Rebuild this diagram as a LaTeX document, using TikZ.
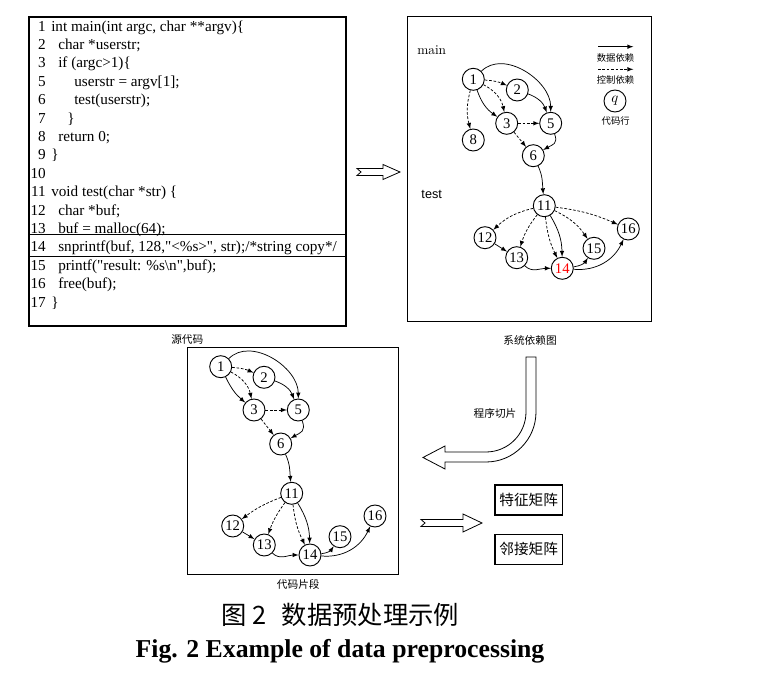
\documentclass[tikz,border=0pt]{standalone}
\usepackage{fontspec}
\setmainfont{Liberation Serif}
\newfontfamily\cjk{Noto Sans CJK SC}
\newfontfamily\lmr{Latin Modern Roman}
\newfontfamily\arial{Liberation Sans}
\usetikzlibrary{positioning}

\tikzset{
  vtx/.style={circle, draw, line width=0.7pt, minimum size=16.5pt, inner sep=0pt, font=\fontsize{11}{11}\selectfont},
  dep/.style={->, line width=0.55pt},
  ctl/.style={->, line width=0.55pt, dash pattern=on 2pt off 1.3pt},
  num/.style={anchor=base east, inner sep=0pt, font=\fontsize{11.4}{13}\selectfont},
  src/.style={anchor=base west, inner sep=0pt, font=\fontsize{11.4}{13}\selectfont},
  frame/.style={draw, line width=1pt},
  caption/.style={inner sep=0pt, font=\cjk\fontsize{8}{9}\selectfont},
  legend/.style={inner sep=0pt, font=\cjk\fontsize{7}{8}\selectfont},
  bigarrow/.style={draw, fill=white, line width=0.6pt},
  matbox/.style={draw, line width=1pt, minimum width=50.5pt, minimum height=22.5pt, inner sep=0pt, font=\cjk\fontsize{11}{12}\selectfont}
}

\begin{document}
\begin{tikzpicture}[>=latex, x=0.75pt, y=-0.75pt]
\useasboundingbox (0,0) rectangle (769,680);

% source code
\draw[frame] (29,17) rectangle (346,326);
\draw[line width=0.8pt] (29,234.3) -- (346,234.3);
\draw[line width=0.8pt] (29,256.7) -- (346,256.7);
\node[name=num_1, num] at (46,31.2) {1};
\node[name=src_1, src] at (51,31.2) {int main(int argc, char **argv)\{};
\node[name=num_2, num] at (46,49.6) {2};
\node[name=src_2, src] at (58,49.6) {char *userstr;};
\node[name=num_3, num] at (46,68) {3};
\node[name=src_3, src] at (58,68) {if (argc>1)\{};
\node[name=num_5, num] at (46,86.4) {5};
\node[name=src_5, src] at (74,86.4) {userstr = argv[1];};
\node[name=num_6, num] at (46,104.8) {6};
\node[name=src_6, src] at (74,104.8) {test(userstr);};
\node[name=num_7, num] at (46,123.2) {7};
\node[name=src_7, src] at (67,123.2) {\}};
\node[name=num_8, num] at (46,141.6) {8};
\node[name=src_8, src] at (58,141.6) {return 0;};
\node[name=num_9, num] at (46,160) {9};
\node[name=src_9, src] at (51,160) {\}};
\node[name=num_10, num] at (46,178.4) {10};
\node[name=num_11, num] at (46,196.8) {11};
\node[name=src_11, src] at (51,196.8) {void test(char *str) \{};
\node[name=num_12, num] at (46,215.2) {12};
\node[name=src_12, src] at (58,215.2) {char *buf;};
\node[name=num_13, num] at (46,233.6) {13};
\node[name=src_13, src] at (58,233.6) {buf = malloc(64);};
\node[name=num_14, num] at (46,252) {14};
\node[name=src_14, src] at (58,252) {snprintf(buf, 128,\textquotedbl<\%s>\textquotedbl, str);/*string copy*/};
\node[name=num_15, num] at (46,270.4) {15};
\node[name=src_15, src] at (58,270.4) {printf(\textquotedbl result: \%s\textbackslash n\textquotedbl,buf);};
\node[name=num_16, num] at (46,288.8) {16};
\node[name=src_16, src] at (58,288.8) {free(buf);};
\node[name=num_17, num] at (46,307.2) {17};
\node[name=src_17, src] at (51,307.2) {\}};
\node[name=cap_src, caption] at (187.3,340) {源代码};

% system dependence graph
\draw[frame] (407.7,16.7) rectangle (651.3,321.7);
\node[name=lbl_main, inner sep=0pt, font=\lmr\fontsize{10}{12}\selectfont] at (431.7,50.7) {main};
\node[name=lbl_test, inner sep=0pt, font=\arial\fontsize{9.5}{11}\selectfont] at (431.7,194) {test};
\node[name=main_1, vtx] at (473.3,79.3) {1};
\node[name=main_2, vtx] at (517.3,90) {2};
\node[name=main_3, vtx] at (506.7,123.3) {3};
\node[name=main_5, vtx] at (550.7,123.3) {5};
\node[name=main_8, vtx] at (473.3,140) {8};
\node[name=main_6, vtx] at (533.3,155.7) {6};
\node[name=test_11, vtx] at (544.3,205.7) {11};
\node[name=test_12, vtx] at (485,237.7) {12};
\node[name=test_13, vtx] at (516.7,257.7) {13};
\node[name=test_14, vtx, text=red] at (562.3,268.3) {14};
\node[name=test_15, vtx] at (594,248.3) {15};
\node[name=test_16, vtx] at (628.3,229) {16};

\draw(main_1) edge[ctl, bend left=10] (main_2);
\draw(main_1) edge[dep, out=45, in=90] (main_5);
\draw(main_1) edge[ctl, bend right=15] (main_8);
\draw(main_1) edge[dep, bend right=18] (main_3);
\draw(main_1) edge[ctl, bend left=25] (main_3);
\draw(main_2) edge[dep, bend left=25] (main_5);
\draw(main_3) edge[ctl] (main_5);
\draw(main_3) edge[ctl] (main_6);
\draw(main_5) edge[dep, out=-70, in=30, looseness=1.4] (main_6);
\draw(main_6) edge[dep, out=-65, in=95] (test_11);
\draw(test_11) edge[ctl, bend right=15] (test_12);
\draw(test_11) edge[ctl, bend right=10] (test_13);
\draw(test_11) edge[ctl, bend right=10] (test_14);
\draw(test_11) edge[dep, bend left=15] (test_14);
\draw(test_11) edge[ctl, bend left=15] (test_15);
\draw(test_11) edge[ctl, bend left=8] (test_16);
\draw(test_12) edge[dep] (test_13);
\draw(test_13) edge[dep, out=-45, in=180] (test_14);
\draw(test_14) edge[dep, bend right=25] (test_15);
\draw(test_14) edge[dep, out=-5, in=-115] (test_16);

% legend
\coordinate (dep_a) at (598,46.7);
\coordinate (dep_b) at (633.3,46.7);
\coordinate (ctl_a) at (598,69.3);
\coordinate (ctl_b) at (633.3,69.3);
\draw(dep_a) edge[dep] (dep_b);
\draw(ctl_a) edge[ctl] (ctl_b);
\node[name=leg_dep, legend] at (615.5,57.5) {数据依赖};
\node[name=leg_ctl, legend] at (615.5,79.5) {控制依赖};
\node[name=leg_q, vtx] at (615,101) {$q$};
\node[name=leg_line, legend] at (615.7,120.5) {代码行};
\node[name=cap_sdg, caption] at (530,340) {系统依赖图};

% code fragment
\draw[frame] (187.7,347.7) rectangle (398.3,574.3);
\node[name=frag_1, vtx] at (220.7,366.7) {1};
\node[name=frag_2, vtx] at (264,377.3) {2};
\node[name=frag_3, vtx] at (254,410) {3};
\node[name=frag_5, vtx] at (298.3,410) {5};
\node[name=frag_6, vtx] at (280.7,444) {6};
\node[name=frag_11, vtx] at (291.7,493.3) {11};
\node[name=frag_12, vtx] at (232.7,526) {12};
\node[name=frag_13, vtx] at (264.3,545) {13};
\node[name=frag_14, vtx] at (310,555) {14};
\node[name=frag_15, vtx] at (340,536.7) {15};
\node[name=frag_16, vtx] at (375,516) {16};

\draw(frag_1) edge[ctl, bend left=10] (frag_2);
\draw(frag_1) edge[dep, out=45, in=90] (frag_5);
\draw(frag_1) edge[dep, bend right=12] (frag_3);
\draw(frag_1) edge[ctl, bend left=25] (frag_3);
\draw(frag_2) edge[dep, bend left=25] (frag_5);
\draw(frag_3) edge[ctl] (frag_5);
\draw(frag_3) edge[ctl] (frag_6);
\draw(frag_5) edge[dep, out=-70, in=30, looseness=1.4] (frag_6);
\draw(frag_6) edge[dep, out=-65, in=95] (frag_11);
\draw(frag_11) edge[ctl, bend right=8] (frag_12);
\draw(frag_11) edge[ctl, bend right=8] (frag_13);
\draw(frag_11) edge[ctl, bend right=10] (frag_14);
\draw(frag_11) edge[dep, bend left=15] (frag_14);
\draw(frag_12) edge[dep] (frag_13);
\draw(frag_13) edge[dep, out=-45, in=180] (frag_14);
\draw(frag_14) edge[dep, bend right=25] (frag_15);
\draw(frag_14) edge[dep, out=-5, in=-115] (frag_16);
\node[name=cap_frag, caption] at (298.3,584.3) {代码片段};

% block arrows
\draw[bigarrow] (357,168.5) -- (383,168.5) -- (383,164.5) -- (400,172) -- (383,179.5)
  -- (383,175.5) -- (357,175.5) -- (361,172) -- cycle;
\draw[bigarrow] (536,357) -- (536,412) arc (0:90:50) -- (445,462) -- (445,469)
  -- (423,457.5) -- (445,446) -- (445,452) -- (486,452) arc (90:0:40) -- (526,357) -- cycle;
\node[name=cap_slice, caption] at (495,413.3) {程序切片};
\draw[bigarrow] (421,519.5) -- (463,519.5) -- (463,514) -- (482,523) -- (463,532)
  -- (463,526.5) -- (421,526.5) -- (425,523) -- cycle;

% matrices
\node[name=feat, matbox] at (528.7,500) {特征矩阵};
\node[name=adj, matbox] at (528.7,549.2) {邻接矩阵};

% caption
\node[name=title_cn, inner sep=0pt, font=\cjk\fontsize{19}{22}\selectfont] at (340.3,615) {图 2\hspace{0.6em}数据预处理示例};
\node[name=title_en, inner sep=0pt, font=\bfseries\fontsize{19.3}{22}\selectfont] at (340,651.7) {Fig. 2 Example of data preprocessing};
\end{tikzpicture}
\end{document}
